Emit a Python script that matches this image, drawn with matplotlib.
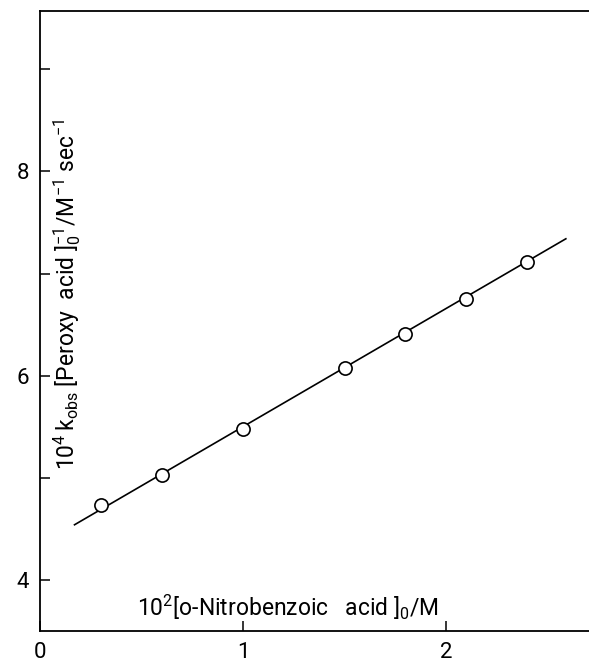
import matplotlib
matplotlib.use("Agg")
import matplotlib.pyplot as plt

plt.rcParams['font.family'] = ['Roboto', 'DejaVu Sans']
plt.rcParams['mathtext.default'] = 'regular'

# o-nitrobenzoic acid concentration (10^2 M) and observed rate ratio
acid_conc = [0.3, 0.6, 1.0, 1.5, 1.8, 2.1, 2.4]
k_ratio = [4.73, 5.03, 5.48, 6.07, 6.41, 6.75, 7.11]

# end points of the straight line through the data
fit_x = [0.17, 2.59]
fit_y = [4.54, 7.34]

x_ticks = [0, 1, 2]
y_major = [4, 6, 8]
y_minor = [5, 7, 9]

fig = plt.figure(figsize=(5.89, 6.68), dpi=100)
ax = fig.add_axes([40 / 589, 37 / 668, 549 / 589, 620 / 668])

ax.plot(fit_x, fit_y, color='black', lw=1.2, zorder=1)
ax.plot(acid_conc, k_ratio, 'o', ms=9.5, mfc='white', mec='black', mew=1.2, zorder=2)

ax.set_xlim(0, 2.704)
ax.set_ylim(3.5, 9.57)

ax.set_xticks(x_ticks)
ax.set_xticklabels([str(t) for t in x_ticks])
ax.set_yticks(y_major)
ax.set_yticklabels([str(t) for t in y_major])
ax.set_yticks(y_minor, minor=True)

ax.tick_params(axis='both', which='both', direction='in', length=7.5, width=1.1,
               labelsize=16, top=False, right=False)
ax.tick_params(axis='x', pad=8)
ax.tick_params(axis='y', pad=8)

for side in ['left', 'bottom', 'top']:
    ax.spines[side].set_linewidth(1.3)
ax.spines['right'].set_visible(False)

ax.text(0.135, 6.8,
        r'$10^4\,k_{obs}$ [Peroxy  acid ]$_0^{-1}$/M$^{-1}$ sec$^{-1}$',
        rotation=90, ha='center', va='center', fontsize=16.5)
ax.text(1.22, 3.73, r'$10^2$[o-Nitrobenzoic   acid ]$_0$/M',
        ha='center', va='center', fontsize=16.5)

fig.savefig('out.png', dpi=100)
